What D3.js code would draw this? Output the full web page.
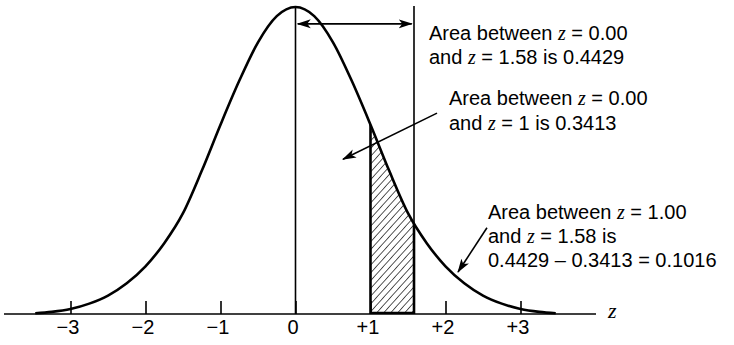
<!DOCTYPE html>
<html>
<head>
<meta charset="utf-8">
<script src="https://cdn.jsdelivr.net/npm/d3@7"></script>
<style>
  html, body { margin: 0; padding: 0; background: #fff; }
  svg { display: block; }
  text { font-family: "Liberation Sans", Arial, Helvetica, sans-serif; font-size: 20px; fill: #000; }
  .zvar { font-family: "Liberation Serif", "Times New Roman", serif; font-style: italic; }
</style>
</head>
<body>
<div id="chart"></div>
<script>
// curve (height of the bell at each z)
const zPoints = [-3.47, -3.25, -3, -2.75, -2.5, -2.25, -2, -1.75, -1.5, -1.25, -1, -0.75, -0.5, -0.25,
	0, 0.25, 0.5, 0.75, 1, 1.25, 1.5, 1.75, 2, 2.25, 2.5, 2.75, 3, 3.25, 3.47];
const density = [0.001, 0.0028, 0.0065, 0.0135, 0.024, 0.04, 0.062, 0.092, 0.131, 0.186, 0.246, 0.303, 0.353, 0.387,
	0.3989, 0.387, 0.353, 0.303, 0.246, 0.186, 0.131, 0.092, 0.062, 0.04, 0.024, 0.0135, 0.0065, 0.0028, 0.001];

const tickValues = [-3, -2, -1, 0, 1, 2, 3];
const tickLabels = ["\u22123", "\u22122", "\u22121", "0", "+1", "+2", "+3"];

// shaded band and the two reference lines
const shadeFrom = 1.0;
const shadeTo = 1.58;
const meanZ = 0;

const note1 = ["Area between z = 0.00", "and z = 1.58 is 0.4429"];
const note2 = ["Area between z = 0.00", "and z = 1 is 0.3413"];
const note3 = ["Area between z = 1.00", "and z = 1.58 is", "0.4429 \u2013 0.3413 = 0.1016"];

const width = 734, height = 345;
const axisY = 314;

const x = d3.scaleLinear().domain([-3, 3]).range([70.5, 520.5]);
const y = d3.scaleLinear().domain([0, 0.3989]).range([axisY, 7]);

const pts = zPoints.map((z, i) => ({ z, d: density[i] }));

const svg = d3.select("#chart")
	.append("svg")
	.attr("width", width)
	.attr("height", height);

const defs = svg.append("defs");

// hatch for the shaded band
defs.append("pattern")
	.attr("id", "hatch")
	.attr("patternUnits", "userSpaceOnUse")
	.attr("width", 5.2)
	.attr("height", 10)
	.attr("patternTransform", "rotate(42)")
	.append("line")
	.attr("x1", 0).attr("y1", 0)
	.attr("x2", 0).attr("y2", 10)
	.attr("stroke", "#000")
	.attr("stroke-width", 1.3);

defs.append("marker")
	.attr("id", "head")
	.attr("viewBox", "0 -5 14 10")
	.attr("refX", 13)
	.attr("refY", 0)
	.attr("markerUnits", "userSpaceOnUse")
	.attr("markerWidth", 14)
	.attr("markerHeight", 10)
	.attr("orient", "auto-start-reverse")
	.append("path")
	.attr("d", "M0,-4.5L14,0L0,4.5L3.5,0Z")
	.attr("fill", "#000");

const area = d3.area()
	.x((d) => x(d.z))
	.y0(axisY)
	.y1((d) => y(d.d))
	.curve(d3.curveMonotoneX);

const line = d3.line()
	.x((d) => x(d.z))
	.y((d) => y(d.d))
	.curve(d3.curveMonotoneX);

defs.append("clipPath")
	.attr("id", "under")
	.append("path")
	.attr("d", area(pts));

// hatched band, clipped to the area under the curve
const band = svg.append("g").attr("clip-path", "url(#under)");
band.append("rect")
	.attr("x", x(shadeFrom))
	.attr("y", 0)
	.attr("width", x(shadeTo) - x(shadeFrom))
	.attr("height", axisY)
	.attr("fill", "url(#hatch)");
band.append("line")
	.attr("x1", x(shadeFrom)).attr("x2", x(shadeFrom))
	.attr("y1", 0).attr("y2", axisY)
	.attr("stroke", "#000")
	.attr("stroke-width", 2.6);
band.append("line")
	.attr("x1", x(shadeTo)).attr("x2", x(shadeTo))
	.attr("y1", 0).attr("y2", axisY)
	.attr("stroke", "#000")
	.attr("stroke-width", 2.6);
band.append("line")
	.attr("x1", x(shadeFrom)).attr("x2", x(shadeTo))
	.attr("y1", axisY - 1).attr("y2", axisY - 1)
	.attr("stroke", "#000")
	.attr("stroke-width", 2.6);

// axis
const axis = d3.axisBottom(x)
	.tickValues(tickValues)
	.tickFormat((d, i) => tickLabels[i])
	.tickSizeInner(-13)
	.tickSizeOuter(0)
	.tickPadding(6);

const gAxis = svg.append("g")
	.attr("transform", `translate(0,${axisY})`)
	.call(axis);
gAxis.select(".domain").remove();
gAxis.selectAll(".tick line").attr("stroke", "#000").attr("stroke-width", 1.6);
gAxis.selectAll(".tick text")
	.attr("dx", -3)
	.style("font-family", "\"Liberation Sans\", Arial, sans-serif")
	.style("font-size", "20px");

svg.append("line")
	.attr("x1", 4).attr("x2", 596)
	.attr("y1", axisY).attr("y2", axisY)
	.attr("stroke", "#000")
	.attr("stroke-width", 1.6);

svg.append("text")
	.attr("class", "zvar")
	.attr("x", 608)
	.attr("y", axisY + 4)
	.style("font-size", "22px")
	.text("z");

// vertical lines at the mean and at z = 1.58
svg.append("line")
	.attr("x1", x(meanZ)).attr("x2", x(meanZ))
	.attr("y1", y(0.3989)).attr("y2", axisY)
	.attr("stroke", "#000")
	.attr("stroke-width", 1.6);
svg.append("line")
	.attr("x1", x(shadeTo)).attr("x2", x(shadeTo))
	.attr("y1", 6).attr("y2", axisY)
	.attr("stroke", "#000")
	.attr("stroke-width", 1.6);

// bell curve
svg.append("path")
	.attr("d", line(pts))
	.attr("fill", "none")
	.attr("stroke", "#000")
	.attr("stroke-width", 2.6);

// arrows
function arrow(z1, d1, z2, d2, both) {
	const a = svg.append("line")
		.attr("x1", x(z1)).attr("y1", y(d1))
		.attr("x2", x(z2)).attr("y2", y(d2))
		.attr("stroke", "#000")
		.attr("stroke-width", 1.6)
		.attr("marker-end", "url(#head)");
	if (both) a.attr("marker-start", "url(#head)");
}
arrow(0.03, 0.377, 1.55, 0.377, true);
arrow(1.887, 0.261, 0.633, 0.201, false);
arrow(2.553, 0.112, 2.167, 0.0546, false);

// notes, with z set in italic serif
function note(lines, px, baseline, step) {
	const t = svg.append("text").attr("x", px).attr("y", baseline);
	lines.forEach((ln, i) => {
		const parts = ln.split(/(\bz\b)/);
		parts.forEach((p, j) => {
			const s = t.append("tspan").text(p);
			if (j === 0) s.attr("x", px).attr("y", baseline + i * step);
			if (p === "z") s.attr("class", "zvar");
		});
	});
}
note(note1, 429, 40, 24);
note(note2, 449, 105, 25);
note(note3, 488, 219, 24);
</script>
</body>
</html>
